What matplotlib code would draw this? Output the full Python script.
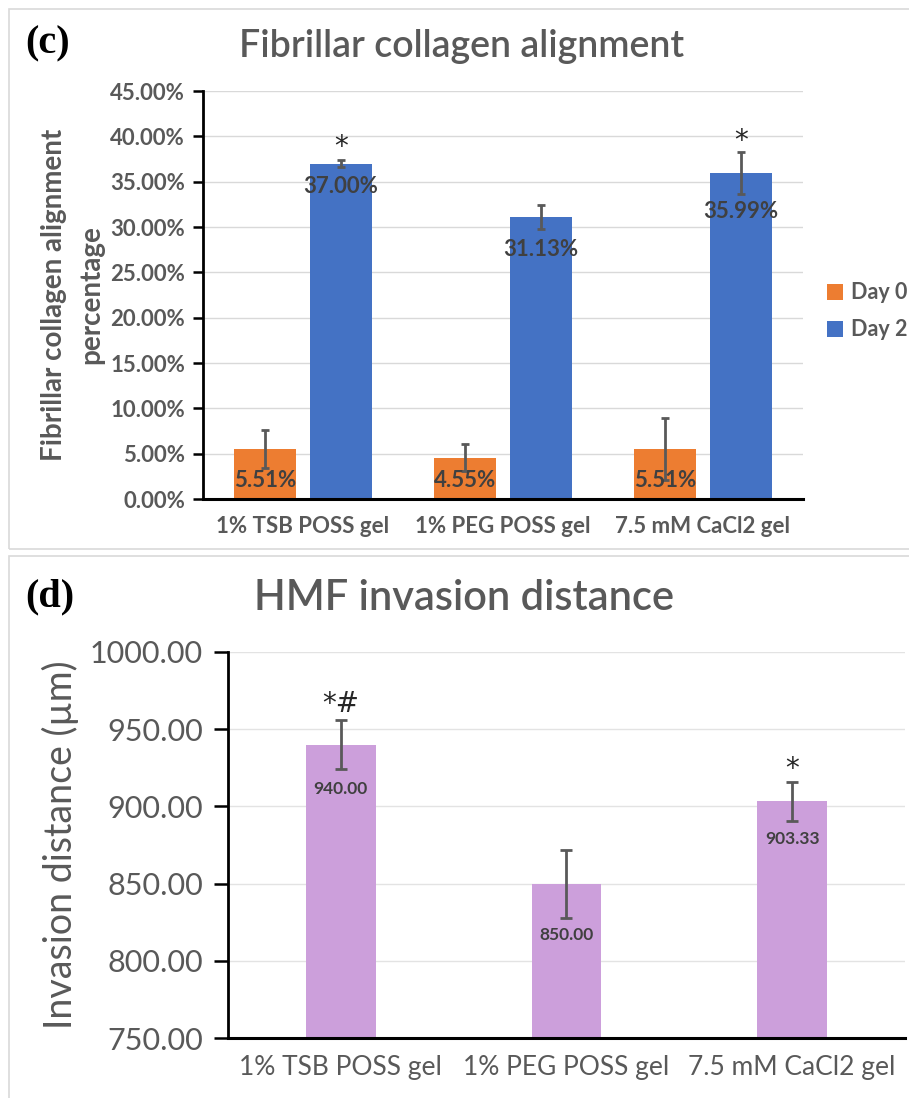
import matplotlib
matplotlib.use("Agg")
import matplotlib.pyplot as plt
import numpy as np
from matplotlib.patches import Rectangle

plt.rcParams["font.family"] = ["Lato", "DejaVu Sans"]

GRAY = "#595959"
DARK = "#404040"

# panel (c) data
groups = ["1% TSB POSS gel", "1% PEG POSS gel", "7.5 mM CaCl2 gel"]
day0 = [5.51, 4.55, 5.51]
day0_err = [2.1, 1.5, 3.4]
day2 = [37.00, 31.13, 35.99]
day2_err = [0.35, 1.3, 2.3]
day0_label_y = [2.0, 2.0, 2.0]
day2_label_y = [34.5, 27.5, 31.7]
day2_star = ["*", "", "*"]
day2_star_y = [38.8, 0, 39.5]
c_ticks = np.arange(0, 46, 5)

# panel (d) data
inv = [940.00, 850.00, 903.33]
inv_err = [16.0, 22.0, 12.7]
inv_label_y = [911, 816.7, 878.8]
inv_star = ["*#", "", "*"]
inv_star_y = [966, 0, 924]
d_ticks = np.arange(750, 1001, 50)

fig = plt.figure(figsize=(9.09, 10.98), dpi=100)

# panel frames
fig.add_artist(Rectangle((0.010, 0.500), 0.995, 0.492, transform=fig.transFigure,
                         fill=False, ec="#D9D9D9", lw=1.2))
fig.add_artist(Rectangle((0.010, -0.01), 0.995, 0.504, transform=fig.transFigure,
                         fill=False, ec="#D9D9D9", lw=1.2))

# ---- (c) ----
ax = fig.add_axes([0.2233, 0.5455, 0.660, 0.3716])
x = np.arange(len(groups))
w = 0.31
off = 0.19
ax.bar(x - off, day0, w, color="#ED7D31", label="Day 0", zorder=2)
ax.bar(x + off, day2, w, color="#4472C4", label="Day 2", zorder=2)
ax.errorbar(x - off, day0, yerr=day0_err, fmt="none", ecolor=GRAY, elinewidth=2,
            capsize=3, capthick=2, zorder=3)
ax.errorbar(x + off, day2, yerr=day2_err, fmt="none", ecolor=GRAY, elinewidth=2,
            capsize=3, capthick=2, zorder=3)
for i in range(len(groups)):
    ax.text(x[i] - off, day0_label_y[i], f"{day0[i]:.2f}%", ha="center", va="center",
            fontsize=16, fontweight="bold", color=DARK, zorder=4)
    ax.text(x[i] + off, day2_label_y[i], f"{day2[i]:.2f}%", ha="center", va="center",
            fontsize=16, fontweight="bold", color=DARK, zorder=4)
    if day2_star[i]:
        ax.text(x[i] + off, day2_star_y[i], day2_star[i], ha="center", va="center",
                fontsize=20, color="#262626", family="DejaVu Sans")
ax.set_xlim(-0.5, 2.5)
ax.set_ylim(0, 45)
ax.set_yticks(c_ticks)
ax.set_yticklabels([f"{t:.2f}%" for t in c_ticks], fontsize=16, fontweight="bold", color=GRAY)
ax.set_xticks(x)
ax.set_xticklabels(groups, fontsize=16, fontweight="bold", color=GRAY)
ax.tick_params(axis="x", length=0, pad=12)
ax.tick_params(axis="y", length=7, width=1.8, direction="out", pad=6)
ax.grid(axis="y", color="#D9D9D9", lw=1, zorder=0)
for s in ["top", "right"]:
    ax.spines[s].set_visible(False)
ax.spines["left"].set_linewidth(2)
ax.spines["bottom"].set_linewidth(2.2)
ax.set_ylabel("Fibrillar collagen alignment\npercentage", fontsize=20, fontweight="bold",
              color=GRAY, labelpad=4, linespacing=1.55)
ax.legend(loc="center left", bbox_to_anchor=(1.04, 0.46), frameon=False,
          prop={"weight": "bold", "size": 15.5}, handlelength=0.75, handleheight=0.75,
          handletextpad=0.35, labelspacing=0.75, borderaxespad=0, borderpad=0,
          labelcolor=GRAY)
fig.text(0.508, 0.958, "Fibrillar collagen alignment", ha="center", va="center",
         fontsize=27, color=GRAY, fontweight="semibold")
fig.text(0.028, 0.960, "(c)", ha="left", va="center", fontsize=29, fontweight="bold",
         family="Liberation Serif")

# ---- (d) ----
ax2 = fig.add_axes([0.2508, 0.0546, 0.7448, 0.3516])
xd = np.arange(len(groups))
ax2.bar(xd, [v - 750 for v in inv], 0.31, bottom=750, color="#CC9FDB", zorder=2)
ax2.errorbar(xd, inv, yerr=inv_err, fmt="none", ecolor=GRAY, elinewidth=2,
             capsize=4, capthick=2, zorder=3)
for i in range(len(groups)):
    ax2.text(xd[i], inv_label_y[i], f"{inv[i]:.2f}", ha="center", va="center",
             fontsize=12.5, fontweight="bold", color=DARK, zorder=4)
    if inv_star[i]:
        ax2.text(xd[i], inv_star_y[i], inv_star[i], ha="center", va="center",
                 fontsize=20, color="#262626", family="DejaVu Sans")
ax2.set_xlim(-0.5, 2.5)
ax2.set_ylim(750, 1000)
ax2.set_yticks(d_ticks)
ax2.set_yticklabels([f"{t:.2f}" for t in d_ticks], fontsize=22, color=GRAY)
ax2.set_xticks(xd)
ax2.set_xticklabels(groups, fontsize=19, color=GRAY)
ax2.tick_params(axis="x", length=0, pad=12)
ax2.tick_params(axis="y", length=10, width=1.8, direction="out", pad=8)
ax2.grid(axis="y", color="#E3E3E3", lw=1, zorder=0)
for s in ["top", "right"]:
    ax2.spines[s].set_visible(False)
ax2.spines["left"].set_linewidth(2)
ax2.spines["bottom"].set_linewidth(2.2)
ax2.set_ylabel("Invasion distance (µm)", fontsize=27, color=GRAY, labelpad=8)
fig.text(0.51, 0.455, "HMF invasion distance", ha="center", va="center",
         fontsize=30, color=GRAY, fontweight="semibold")
fig.text(0.028, 0.456, "(d)", ha="left", va="center", fontsize=29, fontweight="bold",
         family="Liberation Serif")

fig.savefig("out.png", dpi=100)
